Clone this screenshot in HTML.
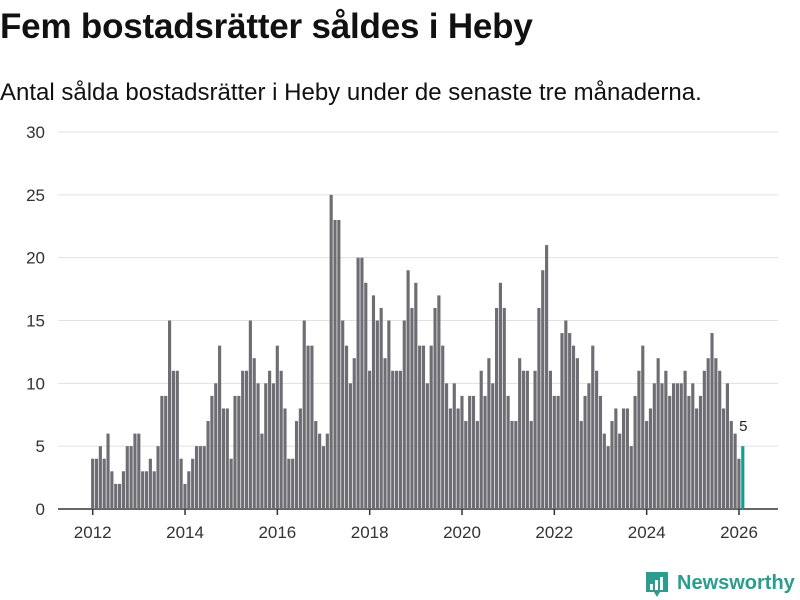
<!DOCTYPE html>
<html><head><meta charset="utf-8">
<style>
html,body{margin:0;padding:0;background:#fff;}
body{width:800px;height:600px;position:relative;overflow:hidden;font-family:"Liberation Sans",sans-serif;color:#111;}
#title{position:absolute;left:0;top:7px;font-size:35px;font-weight:bold;margin:0;letter-spacing:-0.2px;}
#subtitle{position:absolute;left:0;top:79px;font-size:24px;margin:0;}
svg{position:absolute;left:0;top:0;}
</style></head>
<body>
<h1 id="title">Fem bostadsrätter såldes i Heby</h1>
<p id="subtitle">Antal sålda bostadsrätter i Heby under de senaste tre månaderna.</p>
<svg id="chart" width="800" height="600"></svg>
<script>
const startYear = 2012;
const values = [
4,4,5,4,6,3,2,2,3,5,5,6,
6,3,3,4,3,5,9,9,15,11,11,4,
2,3,4,5,5,5,7,9,10,13,8,8,
4,9,9,11,11,15,12,10,6,10,11,10,
13,11,8,4,4,7,8,15,13,13,7,6,
5,6,25,23,23,15,13,10,12,20,20,18,
11,17,15,16,12,15,11,11,11,15,19,16,
18,13,13,10,13,16,17,13,10,8,10,8,
9,7,9,9,7,11,9,12,10,16,18,16,
9,7,7,12,11,11,7,11,16,19,21,11,
9,9,14,15,14,13,12,7,9,10,13,11,
9,6,5,7,8,6,8,8,5,9,11,13,
7,8,10,12,10,11,9,10,10,10,11,9,
10,8,9,11,12,14,12,11,8,10,7,6,
4,5];
const yTicks = [0,5,10,15,20,25,30];
const xTicks = [2012,2014,2016,2018,2020,2022,2024,2026];

const NS = "http://www.w3.org/2000/svg";
const svg = document.getElementById('chart');
const y0 = 509, y1 = 132, yMax = 30;
const xA = 92.7, xB = 739;
function yS(v){ return y0 - v*(y0-y1)/yMax; }
function xS(monthIndex){ return xA + monthIndex*(xB-xA)/((2026-2012)*12); }
function mk(tag, attrs){ const e=document.createElementNS(NS,tag); for(const k in attrs) e.setAttribute(k,attrs[k]); svg.appendChild(e); return e; }

yTicks.forEach(t=>{
  const g = mk('line',{x1:58,x2:778,y1:yS(t),y2:yS(t),stroke:t===0?'#333':'#e1e1e1','stroke-width':t===0?1.5:1});
  
  
  const tx = mk('text',{x:45,y:yS(t)+6,'text-anchor':'end','font-size':17,fill:'#333','font-family':'Liberation Sans, sans-serif'});
  tx.textContent = t;
  
  
});

const step = (xB-xA)/168;
values.forEach((v,i)=>{
  const last = i===values.length-1;
  const r = mk('rect',{x:xS(i)-step/2+0.3,y:yS(v),width:step-0.7,height:y0-yS(v),fill:last?'#1a9a94':'#6e6d73'});
  
  
});
const lv = values[values.length-1];
const lbl = mk('text',{x:xS(values.length-1)+0.5,y:yS(lv)-15,'text-anchor':'middle','font-size':15,fill:'#222','font-family':'Liberation Sans, sans-serif'});
lbl.textContent = lv;



xTicks.forEach(yr=>{
  const x = xS((yr-startYear)*12);
  const tk = mk('line',{x1:x,x2:x,y1:y0,y2:y0+6,stroke:'#333','stroke-width':1.5});
  
  
  const tx = mk('text',{x:x,y:538,'text-anchor':'middle','font-size':17,fill:'#333','font-family':'Liberation Sans, sans-serif'});
  tx.textContent = yr;
  
  
});

const lg = mk('g',{});


const ic = document.createElementNS(NS,'path');
ic.setAttribute('d','M646 572 h22 v20 h-8 l-3 5 l-3 -5 h-8 z');
ic.setAttribute('fill','#2a9d8f');
lg.appendChild(ic);
[[650,584,3,6],[655,580,3,10],[660,577,3,13]].forEach(b=>{
  const r=document.createElementNS(NS,'rect');
  r.setAttribute('x',b[0]);r.setAttribute('y',b[1]);r.setAttribute('width',b[2]);r.setAttribute('height',b[3]);r.setAttribute('fill','#fff');
  lg.appendChild(r);
});
const lt = document.createElementNS(NS,'text');
lt.setAttribute('x',677);lt.setAttribute('y',589);lt.setAttribute('font-size',20);lt.setAttribute('font-weight','bold');
lt.setAttribute('fill','#2a9d8f');lt.setAttribute('font-family','Liberation Sans, sans-serif');
lt.textContent='Newsworthy';
lg.appendChild(lt);
svg.appendChild(lg);
</script>
</body></html>
